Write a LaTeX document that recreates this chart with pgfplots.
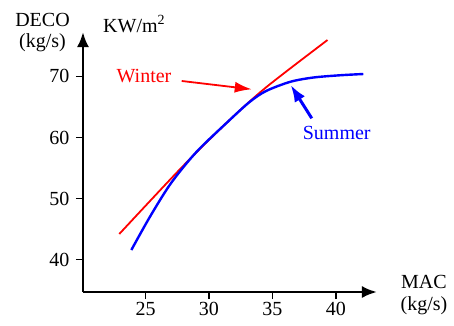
\documentclass[border=0pt]{standalone}
\usepackage{fontspec}
\setmainfont{Liberation Serif}
\newfontfamily\timesfont{Liberation Serif}
\usepackage{pgfplots}
\pgfplotsset{compat=1.18}
\usetikzlibrary{arrows.meta}

\definecolor{winterred}{RGB}{255,0,0}
\definecolor{summerblue}{RGB}{0,0,255}

\newcommand{\lbl}{\timesfont\fontsize{20}{24}\selectfont}

\begin{document}
\begin{tikzpicture}
\begin{axis}[
  x=12.69pt, y=6.112pt,
  xmin=20.07, xmax=43.24,
  ymin=34.71, ymax=77.25,
  axis lines=left,
  axis line style={line width=2.6pt, -{Latex[length=15pt,width=12pt]}},
  xtick={25,30,35,40},
  ytick={40,50,60,70},
  tick align=outside,
  major tick length=7pt,
  tick style={line width=1.5pt, black},
  minor tick num=0,
  /pgf/number format/assume math mode=true,
  tick label style={font=\lbl},
  yticklabel style={xshift=-3pt},
  clip=false,
]
% Winter
\addplot[winterred, line width=1.8pt, smooth] coordinates {
  (22.93,44.20) (27.85,55.10) (31.50,62.60) (34.50,68.20) (39.34,75.94)
};
% Summer
\addplot[summerblue, line width=2.4pt, smooth] coordinates {
  (23.88,41.58) (25.35,47.03) (27.00,52.50) (29.00,57.60) (31.50,62.60)
  (33.20,65.80) (34.50,67.60) (36.40,69.10) (38.20,69.80) (40.30,70.17)
  (42.16,70.38)
};

% annotations
\draw[winterred, line width=1.8pt, -{Latex[length=17pt,width=11pt]}]
  (axis cs:27.85,69.24) -- (axis cs:33.37,67.88);
\draw[summerblue, line width=3pt, -{Latex[length=17pt,width=12pt]}]
  (axis cs:38.10,63.13) -- (axis cs:36.44,68.58);
\node[text=winterred, font=\lbl] at (axis cs:24.88,70.05) {Winter};
\node[text=summerblue, font=\lbl] at (axis cs:40.07,60.68) {Summer};

% axis titles
\node[font=\lbl] at (axis cs:16.88,79.21) {DECO};
\node[font=\lbl] at (axis cs:16.88,75.45) {(kg/s)};
\node[font=\lbl, anchor=west, inner sep=0pt] at (axis cs:21.65,78.56) {KW/m\textsuperscript{2}};
\node[font=\lbl] at (axis cs:46.94,36.35) {MAC};
\node[font=\lbl] at (axis cs:46.94,32.42) {(kg/s)};

% page extent
\path (axis cs:13.53,82.49) rectangle (axis cs:49.31,29.31);
\end{axis}
\end{tikzpicture}
\end{document}
